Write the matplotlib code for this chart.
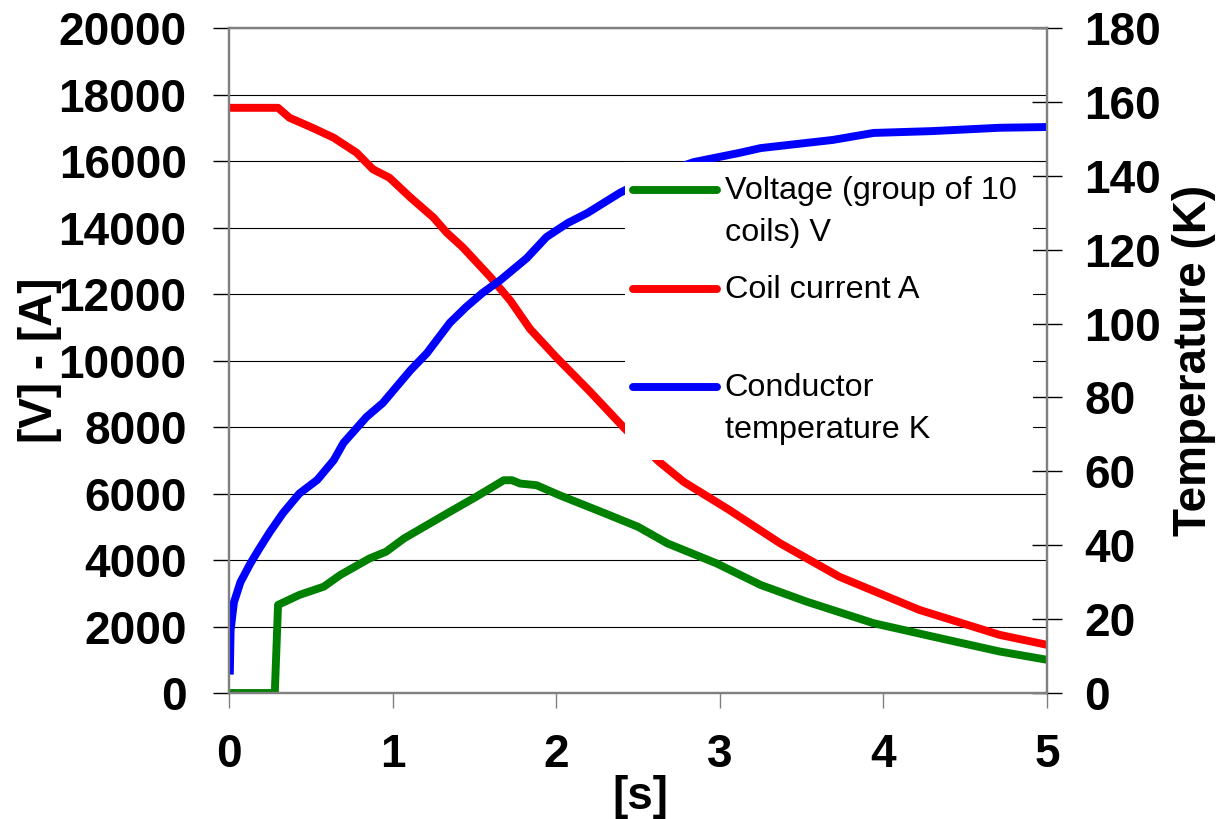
import matplotlib.pyplot as plt
from matplotlib.lines import Line2D
from matplotlib.patches import Rectangle

# Spannung (Gruppe von 10 Spulen) in V
zeit_spannung = [0, 0.28, 0.30, 0.43, 0.58, 0.68, 0.86, 0.96, 1.07, 1.21, 1.35, 1.51,
                 1.68, 1.73, 1.78, 1.88, 2.02, 2.30, 2.50, 2.68, 2.98, 3.25, 3.53,
                 3.94, 4.30, 4.71, 5.0]
spannung = [0, 0, 2650, 2950, 3200, 3550, 4050, 4250, 4650, 5050, 5450, 5900,
            6400, 6400, 6300, 6250, 5950, 5400, 5000, 4500, 3900, 3250, 2750,
            2100, 1700, 1250, 1000]

# Spulenstrom in A
zeit_strom = [0, 0.30, 0.37, 0.51, 0.64, 0.78, 0.88, 0.98, 1.11, 1.25, 1.33, 1.43,
              1.60, 1.72, 1.84, 2.00, 2.20, 2.42, 2.63, 2.78, 3.06, 3.37, 3.73,
              4.22, 4.71, 5.0]
strom = [17600, 17600, 17300, 17000, 16700, 16250, 15750, 15500, 14900, 14300,
         13850, 13400, 12500, 11800, 10950, 10100, 9100, 7950, 6950, 6350, 5500,
         4500, 3500, 2500, 1750, 1450]

# Leitertemperatur in K
zeit_temp = [0.005, 0.01, 0.03, 0.07, 0.13, 0.18, 0.25, 0.33, 0.43, 0.54, 0.64,
             0.70, 0.84, 0.94, 1.11, 1.21, 1.35, 1.45, 1.55, 1.66, 1.82, 1.94,
             2.07, 2.19, 2.27, 2.39, 2.60, 2.84, 3.12, 3.25, 3.69, 3.94, 4.30,
             4.71, 5.0]
temperatur = [5, 17, 24.5, 30, 35, 38.7, 43.6, 48.7, 54, 57.7, 63, 67.7, 74.7,
              78.5, 87.4, 92, 100.2, 104.5, 108.3, 111.8, 117.7, 123.4, 127.2,
              129.9, 132.1, 135.4, 140, 143.7, 146.2, 147.5, 149.7, 151.6, 152.1,
              153, 153.2]

legende = ['Voltage (group of 10\ncoils) V', 'Coil current A', 'Conductor\ntemperature K']
farben = ['green', 'red', 'blue']

plt.rcParams['font.family'] = ['Liberation Sans', 'DejaVu Sans']
grau = '#808080'

fig = plt.figure(figsize=(12.16, 8.19), dpi=100)
ax = fig.add_axes([0.1883, 0.1538, 0.6727, 0.8120])
ax2 = ax.twinx()

linie = dict(lw=5.7, solid_capstyle='butt', solid_joinstyle='round')
ax.plot(zeit_spannung, spannung, color=farben[0], **linie)
ax.plot(zeit_strom, strom, color=farben[1], **linie)
ax2.plot(zeit_temp, temperatur, color=farben[2], **linie)

ax.set_xlim(0, 5)
ax.set_ylim(0, 20000)
ax2.set_ylim(0, 180)
ax.set_xticks(range(0, 6))
ax.set_yticks(range(0, 20001, 2000))
ax2.set_yticks(range(0, 181, 20))

ax.grid(axis='y', color='black', lw=0.8)
ax.set_axisbelow(True)

for a in (ax, ax2):
    for s in a.spines.values():
        s.set_color(grau)
        s.set_linewidth(1.6)

schrift = dict(fontsize=33, fontweight='bold')
ax.tick_params(axis='x', direction='out', length=11, width=1, color=grau, pad=18,
               labelsize=33)
ax.tick_params(axis='y', direction='out', length=11.5, width=1, color='black', pad=19,
               labelsize=33)
ax2.tick_params(axis='y', direction='inout', length=21, width=1, color='black', pad=16.5,
                labelsize=33)
for lab in ax.get_xticklabels() + ax.get_yticklabels() + ax2.get_yticklabels():
    lab.set_fontweight('bold')

ax.set_xlabel('[s]', **schrift)
ax.set_ylabel('[V] - [A]', **schrift)
ax2.set_ylabel('Temperature (K)', **schrift)
ax.xaxis.set_label_coords(0.503, -0.123)
ax.yaxis.set_label_coords(-0.204, 0.5)
ax2.yaxis.set_label_coords(1.153, 0.5)

# Legende als weißer Kasten über den Kurven
ax2.add_patch(Rectangle((0.484, 0.350), 0.499, 0.448, transform=ax2.transAxes,
                        facecolor='white', edgecolor='none', zorder=5))
zeilen_y = [0.756, 0.608, 0.460]
for farbe, text, y in zip(farben, legende, zeilen_y):
    ax2.add_line(Line2D([0.494, 0.597], [y, y], transform=ax2.transAxes, color=farbe,
                        lw=5.7, solid_capstyle='round', zorder=6))
    ax2.text(0.606, y + 0.021, text, transform=ax2.transAxes, fontsize=23.3,
             va='top', ha='left', linespacing=1.5, zorder=6)

fig.savefig('out.png', dpi=100)
